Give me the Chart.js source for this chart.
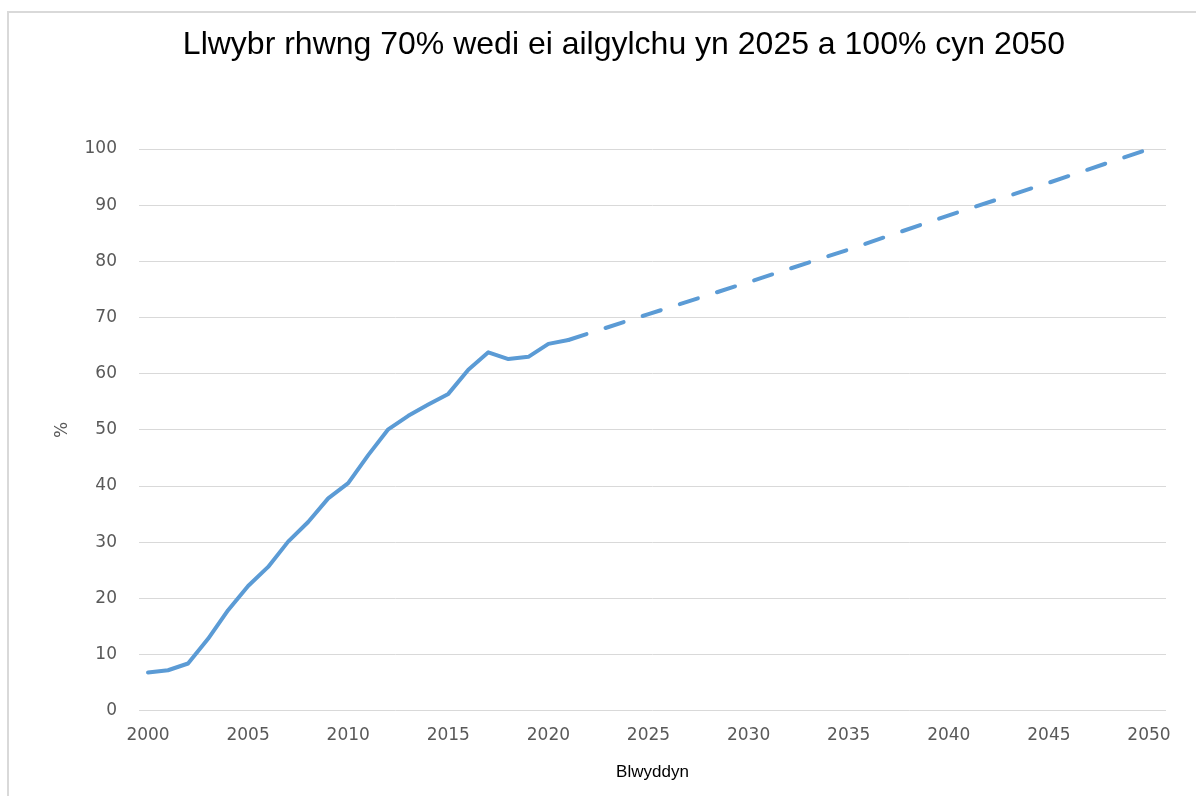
<!DOCTYPE html>
<html lang="cy">
<head>
    <meta charset="UTF-8">
    <meta name="viewport" content="width=device-width, initial-scale=1.0">
    <title>Llwybr ailgylchu</title>
    <script src="https://cdn.jsdelivr.net/npm/chart.js"></script>
    <style>
        html, body { margin: 0; padding: 0; background: #fff; }
        #wrap { position: relative; width: 1196px; height: 796px; overflow: hidden; }
        #ffram {
            position: absolute; left: 7px; top: 11px; width: 1250px; height: 850px;
            border: 2px solid #d9d9d9; box-sizing: border-box;
        }
        canvas { position: absolute; left: 0; top: 0; }
    </style>
</head>
<body>
    <div id="wrap">
        <div id="ffram"></div>
        <canvas id="siart" width="1196" height="796"></canvas>
    </div>

    <script>
        // blynyddoedd a gwerthoedd go iawn (llinell solet)
        const blynyddoedd = [2000, 2001, 2002, 2003, 2004, 2005, 2006, 2007, 2008, 2009, 2010,
                             2011, 2012, 2013, 2014, 2015, 2016, 2017, 2018, 2019, 2020, 2021];
        const gwerthoedd = [6.8, 7.2, 8.4, 12.8, 17.9, 22.2, 25.6, 30.1, 33.6, 37.8, 40.5,
                            45.5, 50.1, 52.5, 54.5, 56.4, 60.7, 63.8, 62.6, 63.0, 65.3, 66.0];

        // llwybr i 2050 (llinell doredig)
        const blynyddoeddLlwybr = [2021, 2025, 2030, 2035, 2040, 2045, 2050];
        const gwerthoeddLlwybr = [66.0, 70.6, 76.3, 82.1, 88.2, 94.0, 100];

        const ticiauX = [2000, 2005, 2010, 2015, 2020, 2025, 2030, 2035, 2040, 2045, 2050];

        const glas = '#5b9bd5';
        const llwyd = '#595959';

        const ctx = document.getElementById('siart').getContext('2d');
        new Chart(ctx, {
            type: 'line',
            data: {
                datasets: [
                    {
                        label: 'Gwirioneddol',
                        data: blynyddoedd.map((b, i) => ({ x: b, y: gwerthoedd[i] })),
                        borderColor: glas,
                        borderWidth: 4,
                        pointRadius: 0,
                        tension: 0,
                        borderJoinStyle: 'round',
                        borderCapStyle: 'round',
                        clip: false
                    },
                    {
                        label: 'Llwybr',
                        data: blynyddoeddLlwybr.map((b, i) => ({ x: b, y: gwerthoeddLlwybr[i] })),
                        borderColor: glas,
                        borderWidth: 4,
                        borderDash: [19, 20],
                        borderCapStyle: 'round',
                        pointRadius: 0,
                        tension: 0,
                        clip: false
                    }
                ]
            },
            options: {
                responsive: false,
                animation: false,
                layout: { padding: { left: 52, right: 0, top: 0, bottom: 0 } },
                plugins: {
                    legend: { display: false },
                    tooltip: { enabled: false },
                    title: {
                        display: true,
                        text: 'Llwybr rhwng 70% wedi ei ailgylchu yn 2025 a 100% cyn 2050',
                        color: '#000',
                        font: { family: 'Liberation Sans', size: 32, weight: 'normal', lineHeight: 1.2 },
                        padding: { top: 25.8, bottom: 84.8 }
                    }
                },
                scales: {
                    x: {
                        type: 'linear',
                        min: 1999.55,
                        max: 2050.85,
                        afterBuildTicks: s => { s.ticks = ticiauX.map(v => ({ value: v })); },
                        afterFit: s => { s.height = 85.3; },
                        grid: { display: false, drawTicks: false },
                        border: { display: false },
                        ticks: {
                            color: llwyd,
                            padding: 15,
                            maxRotation: 0,
                            autoSkip: false,
                            font: { family: 'DejaVu Sans', size: 17 },
                            callback: v => String(v)
                        },
                        title: {
                            display: true,
                            text: 'Blwyddyn',
                            color: '#000',
                            font: { family: 'Liberation Sans', size: 17 },
                            padding: { top: 0, bottom: 13 }
                        }
                    },
                    y: {
                        min: 0,
                        max: 100,
                        afterFit: s => { s.width = 87; },
                        grid: { color: '#d9d9d9', lineWidth: 1, drawTicks: false },
                        border: { display: false },
                        ticks: {
                            stepSize: 10,
                            color: llwyd,
                            padding: 22,
                            font: { family: 'DejaVu Sans', size: 17 }
                        },
                        title: {
                            display: true,
                            text: '%',
                            color: llwyd,
                            font: { family: 'DejaVu Sans', size: 17 },
                            padding: { top: 0, bottom: 0 }
                        }
                    },
                    // echel wag ar y dde i gadw lle
                    yDde: {
                        position: 'right',
                        min: 0,
                        max: 100,
                        afterFit: s => { s.width = 30; },
                        grid: { display: false, drawTicks: false },
                        border: { display: false },
                        ticks: { display: false }
                    }
                }
            }
        });
    </script>
</body>
</html>
